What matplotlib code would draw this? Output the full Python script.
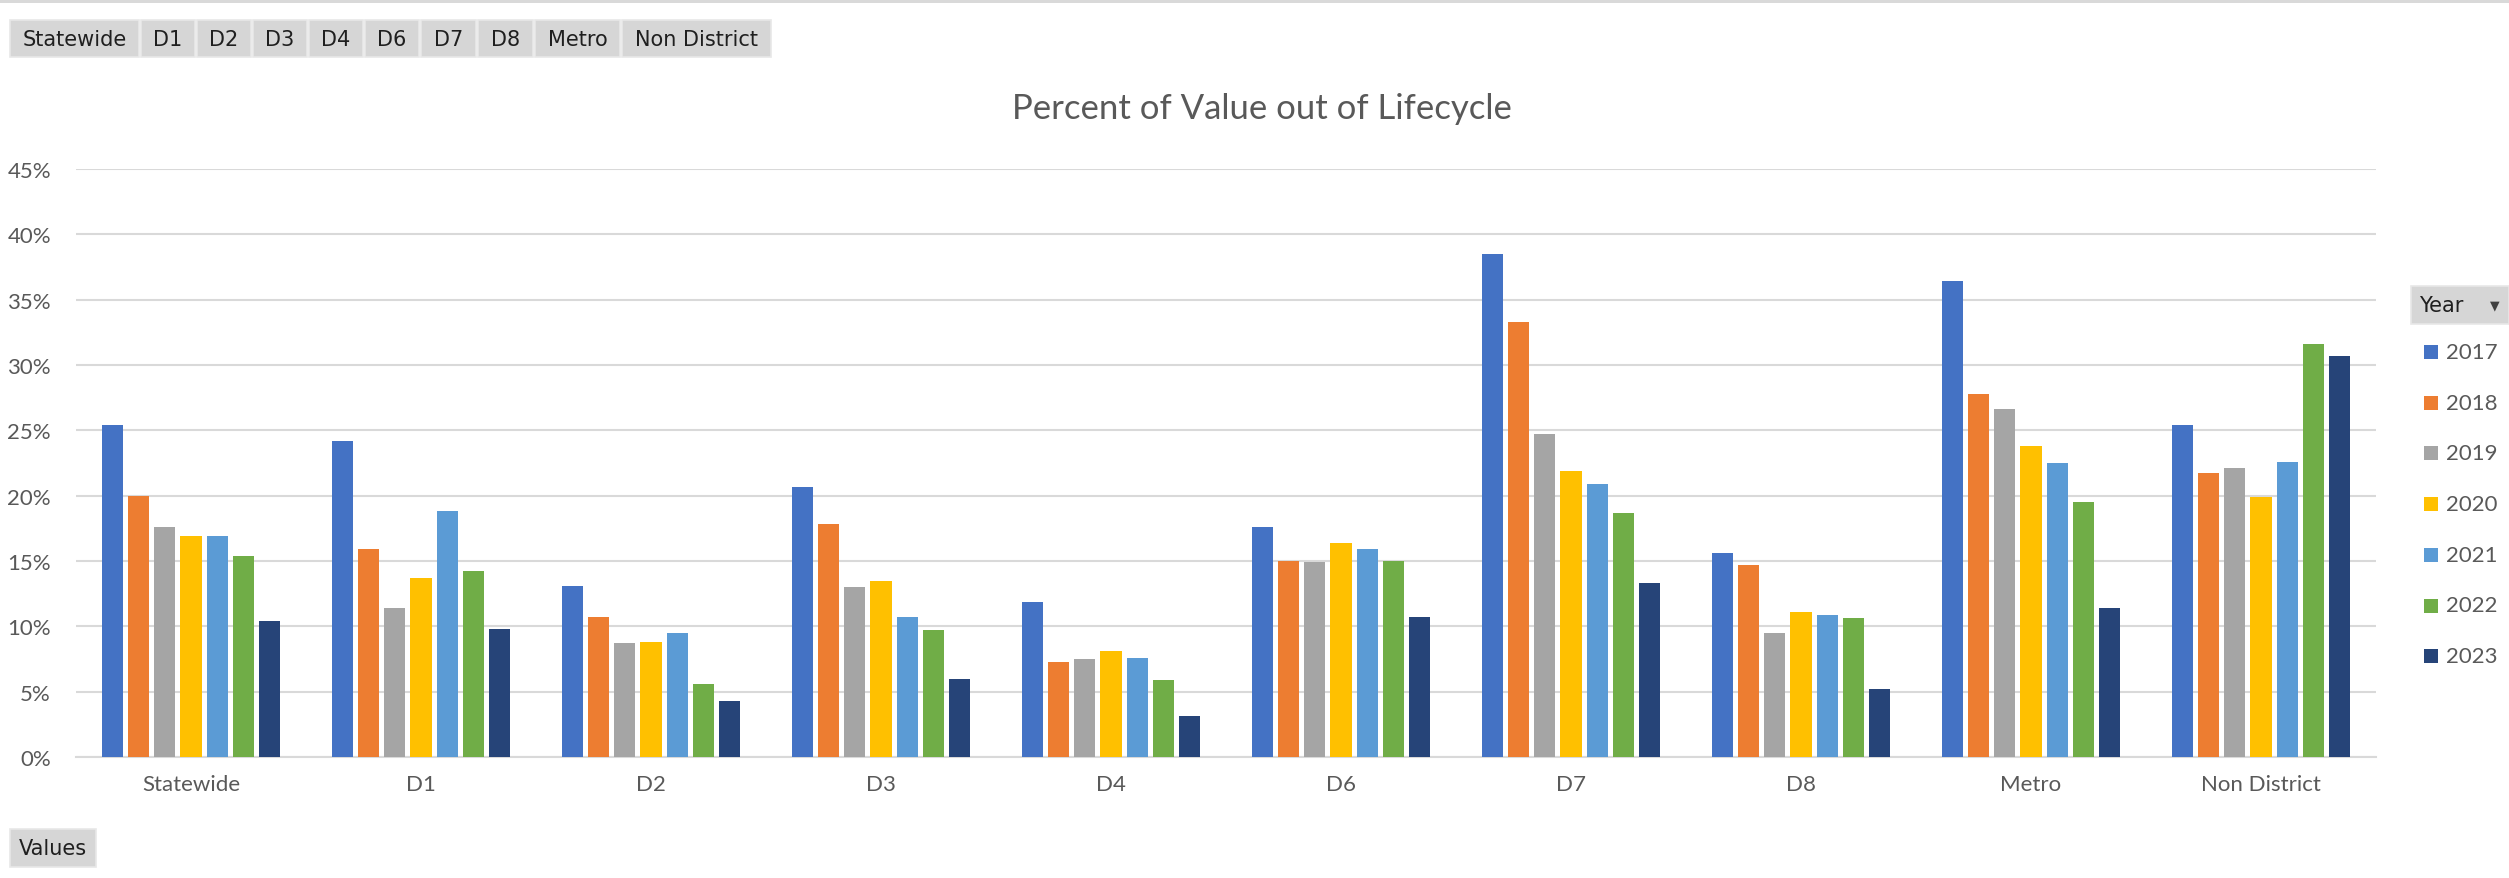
import matplotlib
matplotlib.use("Agg")
import matplotlib.pyplot as plt
import numpy as np
from matplotlib.patches import Rectangle
from matplotlib.ticker import FuncFormatter, MultipleLocator

categories = ["Statewide", "D1", "D2", "D3", "D4", "D6", "D7", "D8", "Metro", "Non District"]
years = ["2017", "2018", "2019", "2020", "2021", "2022", "2023"]
v2017 = [25.4, 24.2, 13.1, 20.7, 11.9, 17.6, 38.5, 15.6, 36.4, 25.4]
v2018 = [20.0, 15.9, 10.7, 17.8, 7.25, 15.0, 33.3, 14.7, 27.8, 21.75]
v2019 = [17.6, 11.4, 8.7, 13.0, 7.5, 14.9, 24.7, 9.5, 26.6, 22.1]
v2020 = [16.9, 13.7, 8.8, 13.5, 8.1, 16.4, 21.9, 11.1, 23.8, 19.9]
v2021 = [16.9, 18.8, 9.5, 10.7, 7.6, 15.9, 20.9, 10.9, 22.5, 22.6]
v2022 = [15.4, 14.2, 5.6, 9.7, 5.9, 15.0, 18.7, 10.6, 19.5, 31.6]
v2023 = [10.4, 9.8, 4.3, 6.0, 3.1, 10.7, 13.3, 5.2, 11.4, 30.7]
series = [v2017, v2018, v2019, v2020, v2021, v2022, v2023]
colors = ["#4472C4", "#ED7D31", "#A5A5A5", "#FFC000", "#5B9BD5", "#70AD47", "#264478"]

W, H = 2509, 879
fig = plt.figure(figsize=(W / 100, H / 100), dpi=100)
plt.rcParams['font.family'] = ['Lato', 'DejaVu Sans']

def fx(px):
    return px / W

def fy(py):
    return 1 - py / H

ax = fig.add_axes([fx(76), fy(758), fx(2376) - fx(76), fy(170) - fy(758)])
x = np.arange(len(categories))
group = 0.8
slot = group / len(years)
bw = slot * 0.8
for i, (vals, c, yr) in enumerate(zip(series, colors, years)):
    ax.bar(x - group / 2 + slot * (i + 0.5), vals, width=bw, color=c, label=yr, zorder=3)

ax.set_xlim(-0.5, len(categories) - 0.5)
ax.set_ylim(0, 45)
ax.yaxis.set_major_locator(MultipleLocator(5))
ax.yaxis.set_major_formatter(FuncFormatter(lambda v, p: f"{v:.0f}%"))
ax.grid(axis="y", color="#d9d9d9", linewidth=1.5, zorder=0)
for s in ["top", "right", "left"]:
    ax.spines[s].set_visible(False)
ax.spines["bottom"].set_color("#d9d9d9")
ax.spines["bottom"].set_linewidth(1.5)
ax.set_xticks(x)
ax.set_xticklabels(categories)
ax.tick_params(axis="both", length=0, labelsize=16, labelcolor="#595959")
ax.tick_params(axis="y", pad=18)
ax.tick_params(axis="x", pad=12)

fig.text(fx(1262), fy(109), "Percent of Value out of Lifecycle", ha="center", va="center",
         fontsize=25, color="#595959")

# top border line
fig.add_artist(Rectangle((0, fy(4)), 1, fy(0) - fy(4), transform=fig.transFigure,
                         facecolor="#d9d9d9", edgecolor="none"))

BTN_FONT = ['DejaVu Sans']

def button(x0, x1, y0, y1, label, fs=15, arrow=False):
    fig.add_artist(Rectangle((fx(x0), fy(y1)), fx(x1) - fx(x0), fy(y0) - fy(y1),
                             transform=fig.transFigure, facecolor="#d6d6d6",
                             edgecolor="#e8e8e8", linewidth=1.2))
    if arrow:
        fig.text(fx(x0 + 8), fy((y0 + y1) / 2), label, ha="left", va="center",
                 fontsize=fs, color="#1f1f1f", family=BTN_FONT)
        fig.text(fx(x1 - 14), fy((y0 + y1) / 2), "\u25BC", ha="center", va="center",
                 fontsize=9, color="#404040", family=['DejaVu Sans'])
    else:
        fig.text(fx((x0 + x1) / 2), fy((y0 + y1) / 2), label, ha="center", va="center",
                 fontsize=fs, color="#1f1f1f", family=BTN_FONT)

bounds = [(10, 139), (141, 195), (197, 251), (253, 307), (309, 363), (365, 419),
          (421, 476), (478, 533), (535, 620), (622, 771)]
for (a, b), lab in zip(bounds, categories):
    button(a, b, 21, 58, lab)

button(10, 96, 830, 868, "Values")
button(2411, 2509, 287, 325, "Year", arrow=True)

# legend
for i, (yr, c) in enumerate(zip(years, colors)):
    yc = 353 + i * 50.7
    fig.add_artist(Rectangle((fx(2424), fy(yc + 7)), fx(14), fy(0) - fy(14),
                             transform=fig.transFigure, facecolor=c, edgecolor="none"))
    fig.text(fx(2446), fy(yc), yr, ha="left", va="center", fontsize=16, color="#595959")

fig.savefig("out.png", dpi=100)
